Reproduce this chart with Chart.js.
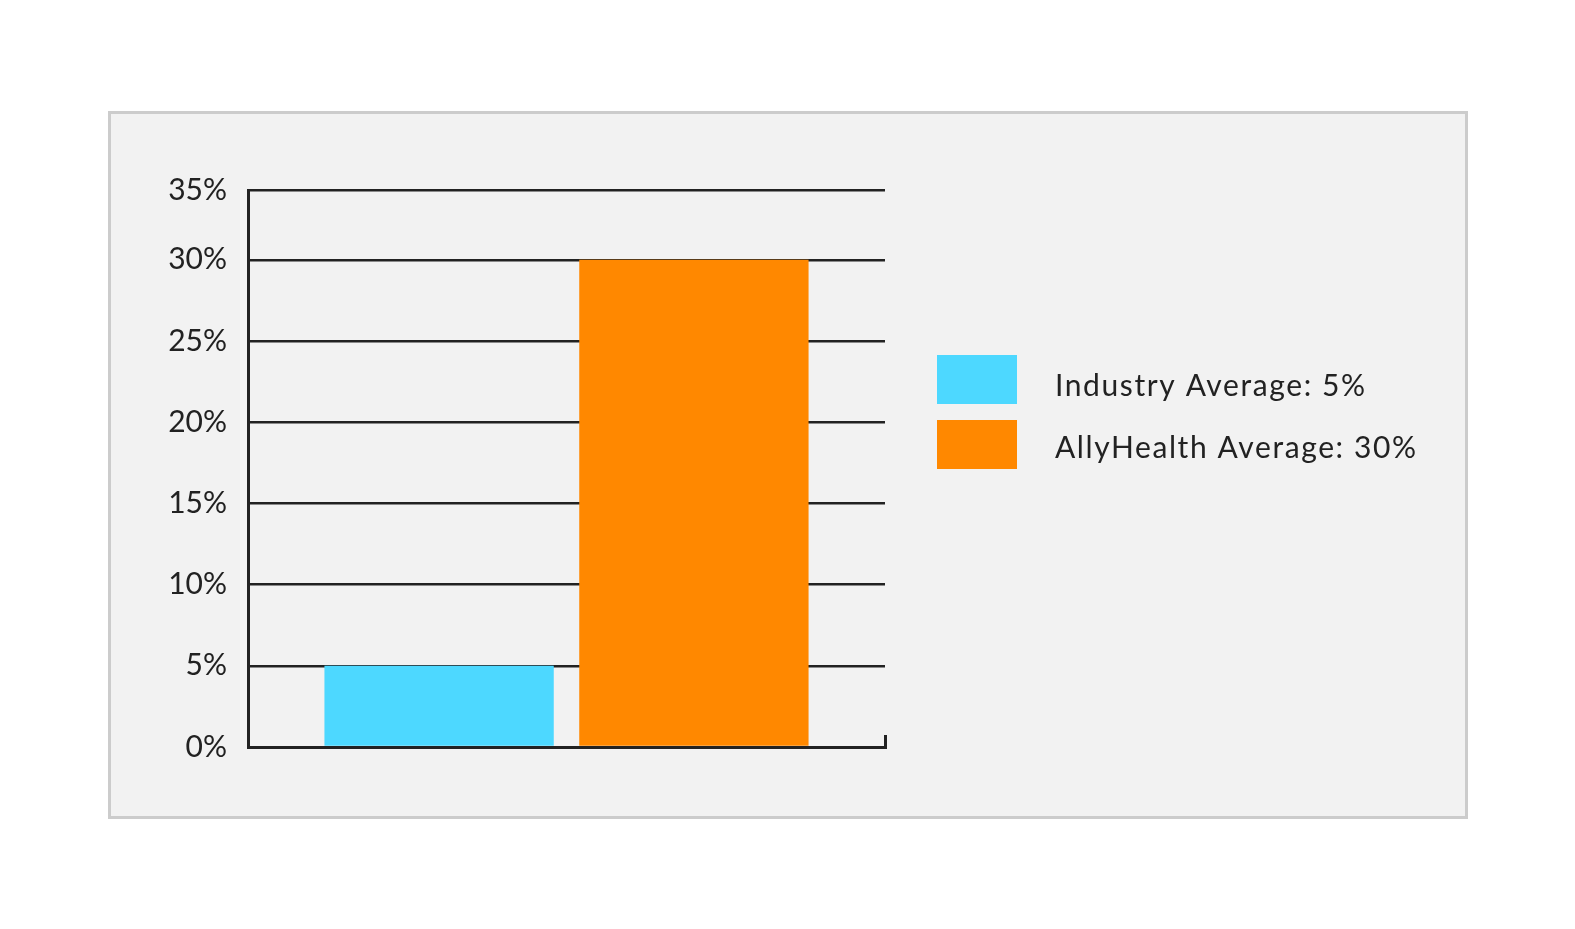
<!DOCTYPE html>
<html>
<head>
<meta charset="utf-8">
<script src="https://cdn.jsdelivr.net/npm/chart.js@4"></script>
<style>
html,body{margin:0;padding:0;background:#ffffff;}
canvas{display:block;}
</style>
</head>
<body>
<canvas id="c" width="1575" height="929"></canvas>
<script>
// ---- data ----
const categories = [''];
const seriesLabels = ['Industry Average: 5%', 'AllyHealth Average: 30%'];
const industryValues = [5];
const allyHealthValues = [30];
const seriesColors = ['#4dd8ff', '#ff8800'];
const tickValues = [0, 5, 10, 15, 20, 25, 30, 34.3];
const tickLabels = ['0%', '5%', '10%', '15%', '20%', '25%', '30%', '35%'];
const yMax = 34.3;

const FONT = 'Lato, "Open Sans", sans-serif';
const INK = '#222222';

const framePlugin = {
  id: 'frame',
  beforeDraw(chart) {
    const ctx = chart.ctx;
    ctx.save();
    ctx.fillStyle = '#f2f2f2';
    ctx.fillRect(109.5, 112.5, 1357, 705);
    ctx.strokeStyle = '#cccccc';
    ctx.lineWidth = 3;
    ctx.strokeRect(109.5, 112.5, 1357, 705);
    ctx.restore();
  }
};

const legendPlugin = {
  id: 'sideLegend',
  afterDraw(chart) {
    const ctx = chart.ctx;
    ctx.save();
    chart.data.datasets.forEach((ds, i) => {
      ctx.fillStyle = ds.backgroundColor;
      ctx.fillRect(937, 355 + 65 * i, 80, 49);
      ctx.fillStyle = INK;
      ctx.font = '400 30px ' + FONT;
      if ('letterSpacing' in ctx) ctx.letterSpacing = '1.6px';
      ctx.textBaseline = 'alphabetic';
      ctx.textAlign = 'left';
      ctx.fillText(ds.label, 1055, 396 + 62 * i);
    });
    ctx.restore();
  }
};

new Chart(document.getElementById('c'), {
  type: 'bar',
  data: {
    labels: categories,
    datasets: [
      { label: seriesLabels[0], data: industryValues, backgroundColor: seriesColors[0], borderWidth: 0 },
      { label: seriesLabels[1], data: allyHealthValues, backgroundColor: seriesColors[1], borderWidth: 0 }
    ]
  },
  options: {
    responsive: false,
    animation: false,
    layout: { padding: { left: 0, top: 190, right: 690, bottom: 0 } },
    plugins: { legend: { display: false }, tooltip: { enabled: false } },
    scales: {
      x: {
        z: 1,
        ticks: { display: false },
        grid: { drawOnChartArea: false, drawTicks: true, tickLength: -12, color: INK, lineWidth: 3 },
        border: { display: true, color: INK, width: 3 },
        afterFit(scale) { scale.height = 182; }
      },
      y: {
        min: 0,
        max: yMax,
        afterBuildTicks(scale) { scale.ticks = tickValues.map(v => ({ value: v })); },
        ticks: {
          padding: 21,
          color: INK,
          font: { family: FONT, size: 30, weight: '400' },
          callback: (v, i) => tickLabels[i]
        },
        grid: { color: INK, lineWidth: 2.5, drawTicks: false },
        border: { display: true, color: INK, width: 3 },
        afterFit(scale) { scale.width = 248; }
      }
    }
  },
  plugins: [framePlugin, legendPlugin]
});
</script>
</body>
</html>
